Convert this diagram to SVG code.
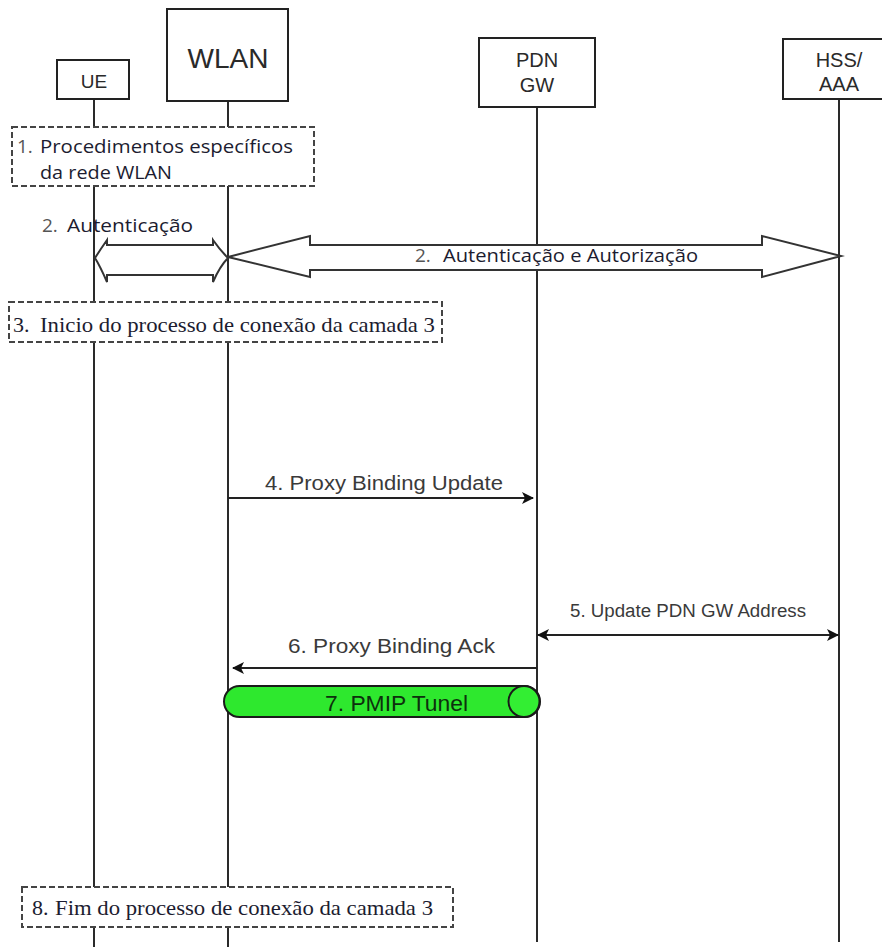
<svg xmlns="http://www.w3.org/2000/svg" width="882" height="947" viewBox="0 0 882 947">
<style>
.box{fill:#fff;stroke:#222;stroke-width:2}
.life{stroke:#2a2a2a;stroke-width:2;fill:none}
.dash{fill:#fff;stroke:#444;stroke-width:2;stroke-dasharray:6 3}
.hdr{font-family:"Liberation Sans",Arial,sans-serif;fill:#2a2a2a;text-anchor:middle}
.cal{font-family:"Open Sans","Noto Sans",sans-serif;font-size:19px;fill:#1c1c30}
.num{fill:#555}
.ser{font-family:"Liberation Serif","Times New Roman",serif;font-size:22px;fill:#1c1c30}
.lbl{font-family:"Liberation Sans",Arial,sans-serif;fill:#3a3a3a}
.msg{stroke:#222;stroke-width:2;fill:none}
.fat{fill:#fff;stroke:#333;stroke-width:2;stroke-linejoin:miter}
</style>
<defs>
<marker id="ah" viewBox="0 0 12 12" refX="11" refY="6" markerWidth="12" markerHeight="12" markerUnits="userSpaceOnUse" orient="auto-start-reverse">
<path d="M0,0 L12,6 L0,12 L3,6 Z" fill="#111"/>
</marker>
</defs>
<g id="lifelines">
<line class="life" x1="94" y1="99" x2="94" y2="947"/>
<line class="life" x1="228" y1="101" x2="228" y2="947"/>
<line class="life" x1="537" y1="90" x2="537" y2="942"/>
<line class="life" x1="839" y1="99" x2="839" y2="942"/>
</g>
<g id="UE">
<rect class="box" x="57" y="60" width="72" height="39"/>
<text class="hdr" x="94" y="88" font-size="19">UE</text>
</g>
<g id="WLAN">
<rect class="box" x="167" y="9" width="121" height="92"/>
<text class="hdr" x="228" y="68" font-size="28">WLAN</text>
</g>
<g id="PDNGW">
<rect class="box" x="479" y="38" width="116" height="69"/>
<text class="hdr" x="537" y="67" font-size="20">PDN</text>
<text class="hdr" x="537" y="92" font-size="20">GW</text>
</g>
<g id="HSSAAA">
<rect class="box" x="783" y="39" width="110" height="60"/>
<text class="hdr" x="839" y="67" font-size="20">HSS/</text>
<text class="hdr" x="839" y="91" font-size="20">AAA</text>
</g>
<g id="step1">
<rect class="dash" x="12" y="127" width="302" height="59"/>
<text class="cal num" x="17" y="153">1.</text>
<text class="cal" x="40" y="153" textLength="253" lengthAdjust="spacingAndGlyphs">Procedimentos específicos</text>
<text class="cal" x="40" y="179" textLength="132" lengthAdjust="spacingAndGlyphs">da rede WLAN</text>
</g>
<g id="step3">
<rect class="dash" x="9" y="302" width="433" height="40"/>
<text class="ser num" x="13" y="332">3.</text>
<text class="ser" x="40" y="332" textLength="395" lengthAdjust="spacingAndGlyphs">Inicio do processo de conexão da camada 3</text>
</g>
<g id="step8">
<rect class="dash" x="22" y="887" width="431" height="40"/>
<text class="ser num" x="32" y="915">8.</text>
<text class="ser" x="55" y="915" textLength="378" lengthAdjust="spacingAndGlyphs">Fim do processo de conexão da camada 3</text>
</g>
<g id="connectors">
<path class="fat" d="M107,240 Q100,250 95,258 Q100,266 107,282 L107,275 L213,275 L213,282 Q220,266 228,258 Q220,250 213,240 L213,245 L107,245 Z"/>
<text class="cal num" x="42" y="232" font-size="18">2.</text>
<text class="cal" x="67" y="232" font-size="18" textLength="126" lengthAdjust="spacingAndGlyphs">Autenticação</text>
<path class="fat" d="M228,257 L310,236 L310,245 L762,245 L762,236 L841,256 L762,277 L762,270 L310,270 L310,277 Z"/>
<text class="cal num" x="415" y="262" font-size="18">2.</text>
<text class="cal" x="443" y="262" font-size="18" textLength="255" lengthAdjust="spacingAndGlyphs">Autenticação e Autorização</text>
<line class="msg" x1="228" y1="498" x2="533" y2="498" marker-end="url(#ah)"/>
<text class="lbl" x="265" y="490" font-size="20" textLength="238" lengthAdjust="spacingAndGlyphs">4. Proxy Binding Update</text>
<line class="msg" x1="538" y1="635" x2="838" y2="635" marker-start="url(#ah)" marker-end="url(#ah)"/>
<text class="lbl" x="570" y="617" font-size="18" textLength="236" lengthAdjust="spacingAndGlyphs">5. Update PDN GW Address</text>
<line class="msg" x1="537" y1="668" x2="233" y2="668" marker-end="url(#ah)"/>
<text class="lbl" x="288" y="653" font-size="20" textLength="207" lengthAdjust="spacingAndGlyphs">6. Proxy Binding Ack</text>
</g>
<g id="tunnel">
<rect x="224" y="686" width="316" height="31" rx="15.5" fill="#2ee82e" stroke="#1a1a1a" stroke-width="2"/>
<circle cx="524" cy="701.5" r="15.5" fill="#33ee33" stroke="#1a1a1a" stroke-width="2"/>
<text x="325" y="711" font-family="Liberation Sans,Arial,sans-serif" font-size="22" fill="#0d300d" textLength="143" lengthAdjust="spacingAndGlyphs">7. PMIP Tunel</text>
</g>
</svg>
